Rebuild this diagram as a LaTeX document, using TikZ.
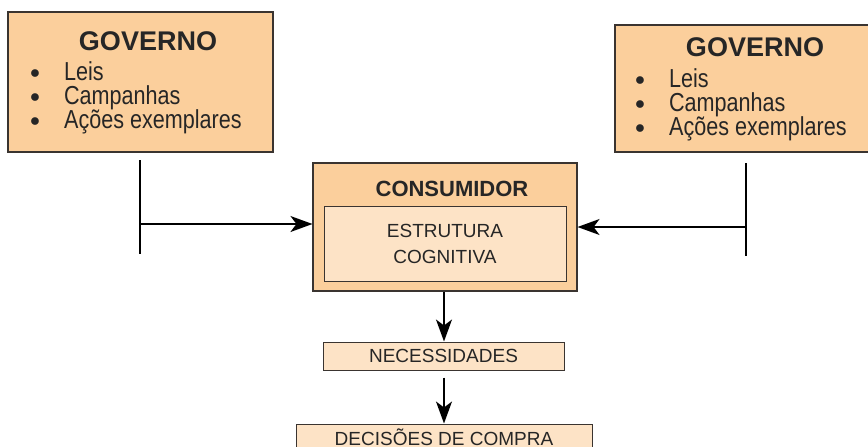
\documentclass[tikz,border=0pt]{standalone}
\usepackage{fontspec}
\setmainfont{Liberation Sans}
\newfontfamily\narrowfont[FakeStretch=0.83]{Liberation Sans}
\usetikzlibrary{arrows.meta}
\definecolor{laranja}{HTML}{FBCF9C}
\definecolor{pele}{HTML}{FDE3C6}
\definecolor{borda}{HTML}{3A3430}
\newcommand{\fonteitens}{\narrowfont\fontsize{26}{24}\selectfont\lineskiplimit=-50pt\relax}
\tikzset{
  caixa/.style={draw=borda, line width=1.1pt, fill=laranja, inner sep=0pt},
  caixaclara/.style={draw=borda, line width=1pt, fill=pele, inner sep=0pt},
  titulo/.style={font=\bfseries\fontsize{27}{30}\selectfont, text=black!85},
  itens/.style={font=\fonteitens, text=black!85, align=left, anchor=north west, inner sep=0pt},
  rotulo/.style={font=\fontsize{19}{26}\selectfont, text=black!85, align=center},
  seta/.style={line width=1.6pt, -{Stealth[length=22pt,width=16pt,inset=6pt]}},
  barra/.style={line width=1.6pt}
}
\newcommand{\pontos}{\raisebox{2pt}{\scalebox{0.8}{$\bullet$}}\hspace{24pt}}
\begin{document}
\begin{tikzpicture}[x=1pt,y=-1pt]
\useasboundingbox (0,0) rectangle (868,447);

% governo esquerdo
\node[caixa, minimum width=265pt, minimum height=140pt] (govA) at (140.5,82) {};
\node[titulo] (govAt) at (148,41) {GOVERNO};
\node[itens] (govAi) at (30,61) {\pontos Leis\\\pontos Campanhas\\\pontos Ações exemplares};

% governo direito
\node[caixa, minimum width=262pt, minimum height=127pt] (govB) at (746,88.5) {};
\node[titulo] (govBt) at (755,47) {GOVERNO};
\node[itens] (govBi) at (635,68) {\pontos Leis\\\pontos Campanhas\\\pontos Ações exemplares};

% consumidor
\node[caixa, minimum width=264pt, minimum height=128pt] (cons) at (445,227) {};
\node[font=\bfseries\fontsize{22}{24}\selectfont, text=black!85] (const) at (452,189) {CONSUMIDOR};
\node[caixaclara, minimum width=242pt, minimum height=75pt, rotulo] (estr) at (445,243.5) {ESTRUTURA\\COGNITIVA};

% necessidades e decisoes
\node[caixaclara, minimum width=241pt, minimum height=28pt, rotulo] (nec) at (443.5,356) {NECESSIDADES};
\node[caixaclara, minimum width=296pt, minimum height=40pt] (dec) at (444,444) {};
\node[rotulo, anchor=base, inner sep=0pt] (dect) at (444,445) {DECISÕES DE COMPRA};

% barras laterais
\coordinate (barA1) at (140,160);
\coordinate (barA2) at (140,254);
\coordinate (barB1) at (746,163);
\coordinate (barB2) at (746,256);
\draw[barra] (barA1) -- (barA2);
\draw[barra] (barB1) -- (barB2);

% setas
\draw[seta] (barA1 |- 0,224) -- (cons.west |- 0,224);
\draw[seta] (barB1 |- 0,227) -- (cons.east |- 0,227);
\draw[seta] (cons.south -| 444,0) -- (nec.north -| 444,0);
\draw[seta] (nec.south -| 444,0) ++(0,7) -- (dec.north -| 444,0);
\end{tikzpicture}
\end{document}
